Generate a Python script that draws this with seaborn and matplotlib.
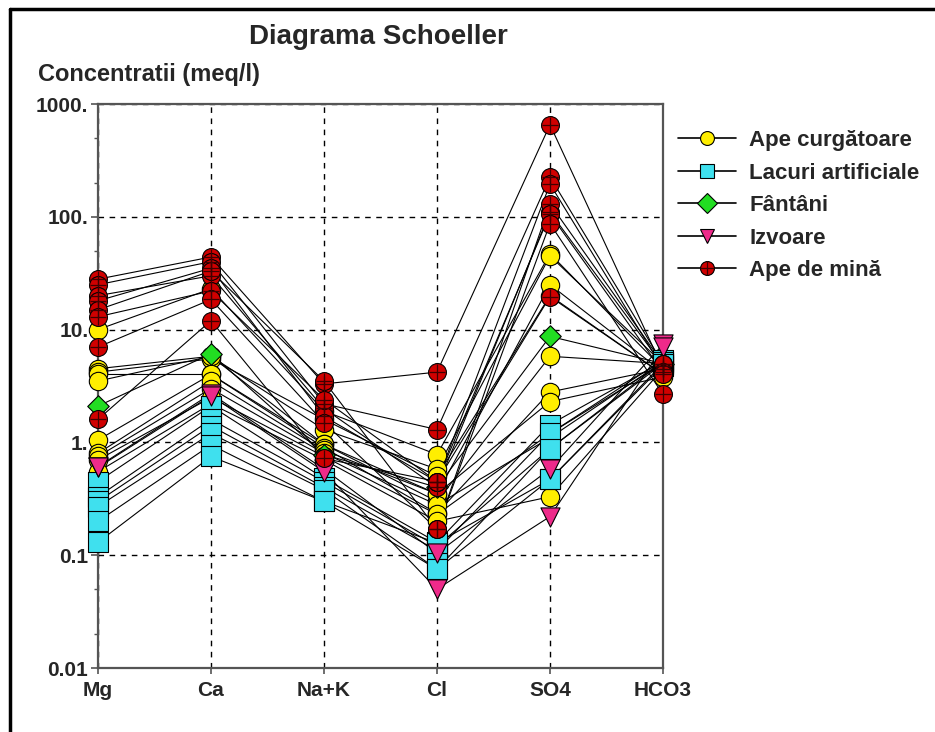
import numpy as np
import pandas as pd
import matplotlib
matplotlib.use("Agg")
import matplotlib.pyplot as plt
import seaborn as sns
from matplotlib.lines import Line2D
from matplotlib.legend_handler import HandlerTuple
from matplotlib.ticker import FixedLocator, FixedFormatter, NullFormatter

# ---------------- data ----------------
ions = ["Mg", "Ca", "Na+K", "Cl", "SO4", "HCO3"]

groups = ["Ape curgătoare", "Lacuri artificiale", "Fântâni", "Izvoare", "Ape de mină"]

ape_curgatoare = [
    [10.0, 23.0, 1.9, 0.78, 47.0, 4.5],
    [4.5, 5.8, 1.3, 0.58, 45.0, 5.0],
    [4.2, 5.5, 1.6, 0.50, 20.0, 4.0],
    [4.0, 4.0, 0.96, 0.35, 25.0, 4.2],
    [3.5, 5.8, 0.96, 0.30, 5.8, 5.0],
    [1.05, 4.0, 0.90, 0.235, 2.8, 4.5],
    [0.80, 3.5, 0.85, 0.35, 2.3, 3.8],
    [0.75, 3.0, 0.80, 0.28, 1.1, 5.2],
    [0.70, 2.5, 0.75, 0.23, 1.2, 5.0],
    [0.55, 2.2, 0.70, 0.20, 0.33, 4.5],
]
lacuri_artificiale = [
    [0.45, 2.1, 0.48, 0.13, 1.44, 5.2],
    [0.33, 1.6, 0.45, 0.12, 0.88, 5.0],
    [0.30, 1.4, 0.40, 0.11, 1.20, 5.4],
    [0.27, 1.2, 0.38, 0.075, 0.47, 4.8],
    [0.20, 0.95, 0.30, 0.075, 0.88, 5.2],
    [0.13, 0.75, 0.30, 0.128, 0.47, 5.0],
]
fantani = [
    [2.1, 6.1, 0.78, 0.40, 8.7, 5.0],
]
izvoare = [
    [0.61, 2.7, 0.58, 0.104, 0.58, 7.4],
    [0.60, 2.6, 0.55, 0.05, 0.22, 7.0],
]
ape_de_mina = [
    [28.0, 44.0, 3.3, 4.2, 655.0, 4.5],
    [25.0, 40.0, 2.2, 1.3, 225.0, 5.0],
    [20.0, 30.0, 2.0, 0.40, 110.0, 4.8],
    [18.0, 35.0, 1.7, 0.45, 195.0, 4.5],
    [15.0, 33.0, 3.5, 0.17, 130.0, 5.0],
    [13.0, 22.0, 2.4, 0.45, 106.0, 4.2],
    [7.0, 18.5, 1.5, 0.17, 87.0, 2.66],
    [1.6, 12.0, 0.72, 0.45, 19.6, 4.0],
]

y_ticks = [0.01, 0.1, 1, 10, 100, 1000]
y_tick_labels = ["0.01", "0.1", "1.", "10.", "100.", "1000."]

# ---------------- styling ----------------
colors = {
    "Ape curgătoare": "#FFEE00",
    "Lacuri artificiale": "#3FE0EE",
    "Fântâni": "#22DD22",
    "Izvoare": "#EE2A8A",
    "Ape de mină": "#D00000",
}
markers = {
    "Ape curgătoare": "o",
    "Lacuri artificiale": "s",
    "Fântâni": "D",
    "Izvoare": "v",
    "Ape de mină": "o",
}
sizes = {
    "Ape curgătoare": 175,
    "Lacuri artificiale": 200,
    "Fântâni": 120,
    "Izvoare": 190,
    "Ape de mină": 165,
}

all_data = [ape_curgatoare, lacuri_artificiale, fantani, izvoare, ape_de_mina]
rows = []
sid = 0
for g, samples in zip(groups, all_data):
    for s in samples:
        for i, v in enumerate(s):
            rows.append({"sample": sid, "group": g, "pos": i, "ion": ions[i], "value": v})
        sid += 1
df = pd.DataFrame(rows)

sns.set_style("white")
plt.rcParams["font.family"] = ["Liberation Sans", "DejaVu Sans"]
plt.rcParams["font.weight"] = "bold"

fig = plt.figure(figsize=(9.35, 7.32), dpi=100)
ax = fig.add_axes([98 / 935, 1 - 668 / 732, (663 - 98) / 935, (668 - 104) / 732])

sns.lineplot(data=df, x="pos", y="value", units="sample", estimator=None,
             color="black", lw=0.8, ax=ax, legend=False, sort=False, zorder=2)

for g in groups:
    sub = df[df["group"] == g]
    sns.scatterplot(data=sub, x="pos", y="value", marker=markers[g], color=colors[g],
                    s=sizes[g], edgecolor="black", linewidth=0.8, ax=ax, zorder=3,
                    legend=False, clip_on=False)
    if g == "Ape de mină":
        sns.scatterplot(data=sub, x="pos", y="value", marker="+", color="#400000",
                        s=130, linewidth=0.9, ax=ax, zorder=4, legend=False, clip_on=False)

ax.set_yscale("log")
ax.set_ylim(0.01, 1000)
ax.set_xlim(0, len(ions) - 1)

ax.xaxis.set_major_locator(FixedLocator(range(len(ions))))
ax.xaxis.set_major_formatter(FixedFormatter(ions))
ax.yaxis.set_major_locator(FixedLocator(y_ticks))
ax.yaxis.set_major_formatter(FixedFormatter(y_tick_labels))
minor = [m * 10.0 ** e for e in range(-2, 3) for m in (2, 5)]
ax.yaxis.set_minor_locator(FixedLocator(minor))
ax.yaxis.set_minor_formatter(NullFormatter())

ax.tick_params(axis="both", which="major", labelsize=15, length=5, width=1.2,
               color="#555555", direction="out")
ax.tick_params(axis="x", which="major", length=4, pad=5)
ax.tick_params(axis="y", which="minor", length=3, width=1.0, color="#555555", left=True)
ax.tick_params(axis="y", which="major", left=True, pad=2)
ax.tick_params(axis="x", which="major", bottom=True)
for lab in ax.get_xticklabels() + ax.get_yticklabels():
    lab.set_fontweight("bold")

ax.grid(True, which="major", color="black", linestyle=(0, (4, 4)), linewidth=1.0)
ax.set_axisbelow(True)
for sp in ax.spines.values():
    sp.set_visible(True)
    sp.set_color("#555555")
    sp.set_linewidth(1.6)
ax.set_xlabel("")
ax.set_ylabel("")

fig.text(378 / 935, 1 - 37 / 732, "Diagrama Schoeller", ha="center", va="center",
         fontsize=20, fontweight="bold")
fig.text(38 / 935, 1 - 75 / 732, "Concentratii (meq/l)", ha="left", va="center",
         fontsize=17, fontweight="bold")

# legend
handles = []
for g in groups:
    h = Line2D([0], [0], color="black", lw=1.2, marker=markers[g],
               markerfacecolor=colors[g], markeredgecolor="black",
               markeredgewidth=0.8, markersize=10)
    if g == "Ape de mină":
        h2 = Line2D([0], [0], color="none", marker="+", markeredgecolor="#400000",
                    markersize=10, markeredgewidth=0.9)
        h = (h, h2)
    handles.append(h)
fig.legend(handles, groups, loc="upper left", bbox_to_anchor=(678 / 935, 1 - 130 / 732),
           frameon=False, prop={"weight": "bold", "size": 16},
           handlelength=2.6, handletextpad=0.6, labelspacing=0.52, borderpad=0,
           borderaxespad=0, handler_map={tuple: HandlerTuple(ndivide=1)})

# outer frame (top and left edges visible)
fig.add_artist(Line2D([10 / 935, 1.0], [1 - 9 / 732, 1 - 9 / 732], transform=fig.transFigure,
                      color="black", lw=2.5))
fig.add_artist(Line2D([10 / 935, 10 / 935], [0.0, 1 - 9 / 732], transform=fig.transFigure,
                      color="black", lw=2.5))

fig.savefig("out.png", dpi=100)
